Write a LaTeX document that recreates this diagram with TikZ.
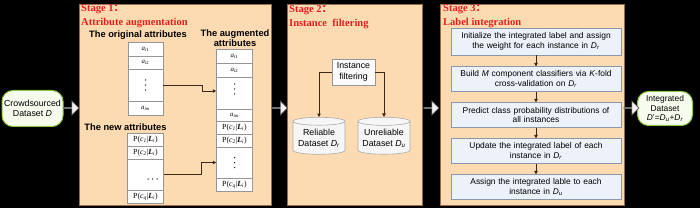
\documentclass[tikz,border=0pt]{standalone}
\usepackage{fontspec}
\setmainfont{Liberation Serif}
\setsansfont{Liberation Sans}
\newfontfamily\cjkfont{Noto Sans CJK SC}
\usetikzlibrary{shapes.geometric,shapes.arrows,arrows.meta}
\definecolor{panelfill}{RGB}{253,219,178}
\definecolor{paneldraw}{RGB}{150,110,70}
\definecolor{titlered}{RGB}{232,30,30}
\definecolor{cellgray}{RGB}{150,150,150}
\definecolor{arrdark}{RGB}{60,40,20}
\definecolor{stepfill}{RGB}{236,241,250}
\definecolor{stepdraw}{RGB}{140,150,170}
\definecolor{dsgreen}{RGB}{140,200,70}
\definecolor{dsfill}{RGB}{246,252,238}
\definecolor{cylfill}{RGB}{246,246,246}
\definecolor{cyldraw}{RGB}{170,170,170}
\newcommand{\probcell}[1]{P(\textit{c}\textsubscript{\textit{#1}}|\textbf{\textit{L}}\textsubscript{\textit{i}})}
\newcommand{\acell}[1]{\textit{a}\textsubscript{\textit{i}#1}}
\newcommand{\dsub}[1]{\textit{D}\textsubscript{\textit{#1}}}
\begin{document}
\begin{tikzpicture}[x=1pt,y=-1pt,font=\sffamily,
  panel/.style={draw=paneldraw,fill=panelfill,line width=0.6pt,inner sep=0pt},
  stagetitle/.style={anchor=west,inner sep=0pt,text=titlered,font=\rmfamily\bfseries\fontsize{10.5}{12}\selectfont},
  headtext/.style={inner sep=0pt,font=\sffamily\bfseries\fontsize{9.3}{10.4}\selectfont,align=center},
  cell/.style={draw=cellgray,fill=white,line width=0.5pt,inner sep=0pt,minimum width=36pt,font=\rmfamily\fontsize{7.8}{8.5}\selectfont},
  acellstyle/.style={cell,font=\rmfamily\fontsize{6.8}{7.5}\selectfont},
  dotmark/.style={fill=black!85},
  arr/.style={draw=arrdark,line width=0.8pt,-{Triangle[length=3.5pt,width=3.5pt]}},
  stepbox/.style={draw=stepdraw,fill=stepfill,line width=0.6pt,minimum width=170pt,minimum height=24.5pt,text width=168pt,align=center,inner sep=1pt,font=\sffamily\fontsize{8.4}{9.8}\selectfont},
  dsbox/.style={draw=dsgreen,fill=dsfill,line width=1pt,rounded corners=11pt,align=center,inner sep=1pt,font=\sffamily\fontsize{8.8}{10.6}\selectfont},
  blockarrow/.style={shape=single arrow,draw=gray!70!black,fill=gray!10,line width=0.6pt,minimum height=15pt,minimum width=14pt,single arrow head extend=2.8pt,inner sep=0pt},
  cyl/.style={shape=cylinder,shape border rotate=90,aspect=0.18,draw=cyldraw,fill=cylfill,line width=0.6pt,minimum width=52pt,minimum height=37pt,align=center,inner sep=1pt,font=\sffamily\fontsize{8.8}{10.4}\selectfont}]
\useasboundingbox[fill=black] (0,0) rectangle (700,208);

% panels
\node[panel,minimum width=192pt,minimum height=201pt] (p1) at (175,104.5) {};
\node[panel,minimum width=135pt,minimum height=201pt] (p2) at (354.5,104.5) {};
\node[panel,minimum width=184pt,minimum height=201pt] (p3) at (532,104.5) {};

% input / output datasets
\node[dsbox,minimum width=61pt,minimum height=36pt] (din) at (32.5,108.5) {Crowdsourced\\Dataset \textit{D}};
\node[dsbox,minimum width=55pt,minimum height=34pt,font=\sffamily\fontsize{8.4}{9.6}\selectfont] (dout) at (665,108.5) {Integrated\\Dataset\\\textit{D}'=\dsub{u}+\dsub{r}};

% block arrows
\node[blockarrow] (ba0) at (71,108) {};
\node[blockarrow] (ba1) at (279.5,108) {};
\node[blockarrow] (ba2) at (431,108) {};
\node[blockarrow] (ba3) at (631,108) {};

% stage titles
\node[stagetitle] (t1a) at (81,9) {Stage 1{\cjkfont ：}};
\node[stagetitle] (t1b) at (81,23) {Attribute augmentation};
\node[stagetitle] (t2a) at (289,10) {Stage 2{\cjkfont ：}};
\node[stagetitle] (t2b) at (289,24) {Instance\ \ filtering};
\node[stagetitle] (t3a) at (443,9) {Stage 3{\cjkfont ：}};
\node[stagetitle] (t3b) at (443,23) {Label integration};

% stage 1
\node[headtext] (hor) at (138,35.5) {The original attributes};
\node[headtext] (haug) at (235,38) {The augmented\\attributes};
\node[headtext] (hnew) at (125.5,127.5) {The new attributes};

\node[acellstyle,minimum width=35pt,minimum height=14pt] (o1) at (145.5,49) {\acell{1}};
\node[acellstyle,minimum width=35pt,minimum height=13pt] (o2) at (145.5,62.5) {\acell{2}};
\node[cell,minimum width=35pt,minimum height=32pt] (o3) at (145.5,85) {};
\node[acellstyle,minimum width=35pt,minimum height=14pt] (o4) at (145.5,108) {\textit{a}\textsubscript{\textit{im}}};

\node[cell,minimum height=13pt] (n1) at (145.5,139.5) {\probcell{1}};
\node[cell,minimum height=13pt] (n2) at (145.5,152.5) {\probcell{2}};
\node[cell,minimum height=31pt] (n3) at (145.5,174.5) {};
\node[cell,minimum height=13pt] (n4) at (145.5,196.5) {\probcell{q}};

\node[acellstyle,minimum height=14pt] (g1) at (234.5,56) {\acell{1}};
\node[acellstyle,minimum height=14pt] (g2) at (234.5,70) {\acell{2}};
\node[cell,minimum height=32pt] (g3) at (234.5,93) {};
\node[acellstyle,minimum height=12pt] (g4) at (234.5,115) {\textit{a}\textsubscript{\textit{im}}};
\node[cell,minimum height=13pt] (g5) at (234.5,127.5) {\probcell{1}};
\node[cell,minimum height=13pt] (g6) at (234.5,140.5) {\probcell{2}};
\node[cell,minimum height=31pt] (g7) at (234.5,162.5) {};
\node[cell,minimum height=13pt] (g8) at (234.5,184.5) {\probcell{q}};

% dots inside the ellipsis cells
\foreach \yy in {-5,0,5} {
  \fill[dotmark] ([yshift=\yy pt]o3.center) circle (0.75pt);
  \fill[dotmark] ([yshift=\yy pt+4pt]g3.center) circle (0.75pt);
  \fill[dotmark] ([yshift=\yy pt]g7.center) circle (0.75pt);
  \fill[dotmark] ([xshift=\yy pt*0.9+7pt,yshift=-4.5pt]n3.center) circle (0.75pt);
}

\draw[arr] (o3.east) -- ++(39pt,0pt) |- ([yshift=2pt]g3.west);
\draw[arr] (n3.east) -- ++(38pt,0pt) |- (g7.west);

% stage 2
\node[draw=cellgray,fill=white!97!gray,line width=0.6pt,minimum width=43pt,minimum height=26pt,inner sep=1pt,align=center,font=\sffamily\fontsize{8.8}{10.4}\selectfont] (filt) at (353.5,72) {Instance\\filtering};
\node[cyl] (rel) at (319,138.5) {Reliable\\Dataset \dsub{r}};
\node[cyl] (unrel) at (384,138.5) {Unreliable\\Dataset \dsub{u}};
\draw[arr] (filt.west) -| (rel.north);
\draw[arr] (filt.east) -| (unrel.north);

% stage 3
\node[stepbox,minimum height=27pt] (s1) at (536,41.5) {Initialize the integrated label and assign\\the weight for each instance in \dsub{r}};
\node[stepbox] (s2) at (536,79) {Build \textit{M} component classifiers via \textit{K}-fold\\cross-validation on \dsub{r}};
\node[stepbox] (s3) at (536,115) {Predict class probability distributions of\\all instances};
\node[stepbox] (s4) at (536,151) {Update the integrated label of each\\instance in \dsub{r}};
\node[stepbox] (s5) at (536,187) {Assign the integrated lable to each\\instance in \dsub{u}};
\draw[arr] (s1) -- (s2);
\draw[arr] (s2) -- (s3);
\draw[arr] (s3) -- (s4);
\draw[arr] (s4) -- (s5);
\end{tikzpicture}
\end{document}
